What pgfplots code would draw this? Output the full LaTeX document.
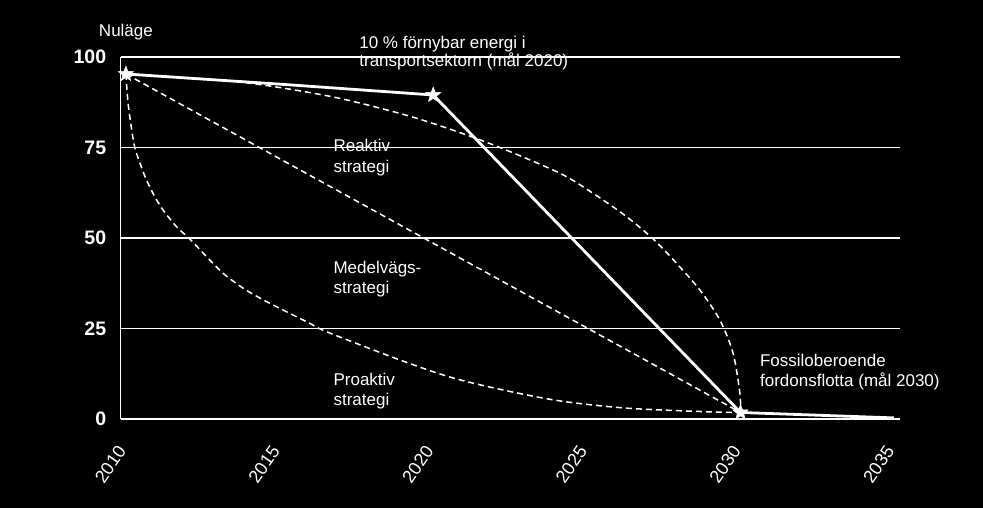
\documentclass[border=0pt]{standalone}
\usepackage{fontspec}
\setmainfont{Liberation Sans}
\usepackage{pgfplots}
\pgfplotsset{compat=1.18}

% filled five-point star for the milestones
\pgfdeclareplotmark{fstar}{%
  \pgfpathmoveto{\pgfqpointpolar{90}{\pgfplotmarksize}}%
  \pgfpathlineto{\pgfqpointpolar{126}{0.42\pgfplotmarksize}}%
  \pgfpathlineto{\pgfqpointpolar{162}{\pgfplotmarksize}}%
  \pgfpathlineto{\pgfqpointpolar{198}{0.42\pgfplotmarksize}}%
  \pgfpathlineto{\pgfqpointpolar{234}{\pgfplotmarksize}}%
  \pgfpathlineto{\pgfqpointpolar{270}{0.42\pgfplotmarksize}}%
  \pgfpathlineto{\pgfqpointpolar{306}{\pgfplotmarksize}}%
  \pgfpathlineto{\pgfqpointpolar{342}{0.42\pgfplotmarksize}}%
  \pgfpathlineto{\pgfqpointpolar{18}{\pgfplotmarksize}}%
  \pgfpathlineto{\pgfqpointpolar{54}{0.42\pgfplotmarksize}}%
  \pgfpathclose\pgfusepathqfillstroke}

\tikzset{lbl/.style={text=white, font=\fontsize{17}{20}\selectfont, anchor=base west, inner sep=0pt}}

\begin{document}
\begin{tikzpicture}[x=1pt,y=1pt]
\useasboundingbox (0,0) rectangle (983,508);
\fill[black] (0,0) rectangle (983,508);
\begin{axis}[
  at={(120.7pt,89pt)}, anchor=south west,
  scale only axis, width=779.3pt, height=362pt,
  xmin=2009.83, xmax=2035.19, ymin=0, ymax=100,
  axis lines*=left,
  axis line style={-, white, line width=1.2pt},
  ymajorgrids, grid style={white, line width=1.2pt},
  xtick={2010,2015,...,2035}, ytick={0,25,50,75,100},
  major tick length=0pt,
  /pgf/number format/assume math mode=true,
  /pgf/number format/1000 sep={},
  ticklabel style={text=white},
  yticklabel style={font=\bfseries\fontsize{19.5}{22}\selectfont, xshift=-11pt},
  xticklabel style={font=\fontsize{18}{20}\selectfont, xshift=-2pt, yshift=-26pt, rotate=55, anchor=east},
  clip=false,
]
% Proaktiv strategi
\addplot[white, line width=1.5pt, dash pattern=on 6pt off 4pt, smooth] coordinates {
  (2010,95.3) (2010.07,87.2) (2010.19,79.8) (2010.29,74.9) (2010.46,70.6)
  (2010.67,66.0) (2010.94,61.4) (2011.21,57.7) (2011.65,53.1) (2012.08,49.7)
  (2012.63,44.8) (2013.17,40.2) (2013.82,36.1) (2014.47,32.9) (2015.23,29.6)
  (2015.99,26.4) (2016.53,24.1) (2018.92,16.3) (2020.54,11.6) (2022.17,8.2)
  (2024.12,5.0) (2026.29,3.0) (2028.9,2.0) (2030,1.8)};
% Medelvagsstrategi
\addplot[white, line width=1.5pt, dash pattern=on 6pt off 4pt] coordinates {
  (2010,95.3) (2030,1.8)};
% Reaktiv strategi
\addplot[white, line width=1.5pt, dash pattern=on 6pt off 4pt, smooth] coordinates {
  (2010,95.3) (2013.6,93.2) (2016.6,89.2) (2018.92,84.4) (2020.5,80.2)
  (2022.17,75) (2024.12,67.9) (2025.21,62.3) (2026.29,55.9) (2027.16,49.7)
  (2027.92,43.0) (2028.68,35.6) (2029.33,27.3) (2029.76,18.1) (2029.98,7.1)
  (2030,1.8)};
% path with milestones
\addplot[white, line width=2.8pt] coordinates {
  (2010,95.3) (2015,92.5) (2020,89.5) (2030,1.8) (2035,0.3)};
\addplot[only marks, mark=fstar, mark size=8pt, white, mark options={fill=white, line width=0.5pt}] coordinates {
  (2010,95.3) (2020,89.5) (2030,1.8)};

\node[lbl, anchor=base] at (axis cs:2010,105.6) {Nuläge};
\node[lbl] at (axis cs:2017.59,102.4) {10 \% förnybar energi i};
\node[lbl] at (axis cs:2017.59,97.3) {transportsektorn (mål 2020)};
\node[lbl] at (axis cs:2016.75,73.76) {Reaktiv};
\node[lbl] at (axis cs:2016.75,68.2) {strategi};
\node[lbl] at (axis cs:2016.75,40.06) {Medelvägs-};
\node[lbl] at (axis cs:2016.75,34.8) {strategi};
\node[lbl] at (axis cs:2016.75,9.2) {Proaktiv};
\node[lbl] at (axis cs:2016.75,3.67) {strategi};
\node[lbl] at (axis cs:2030.63,14.45) {Fossiloberoende};
\node[lbl] at (axis cs:2030.63,8.92) {fordonsflotta (mål 2030)};
\end{axis}
\end{tikzpicture}
\end{document}
